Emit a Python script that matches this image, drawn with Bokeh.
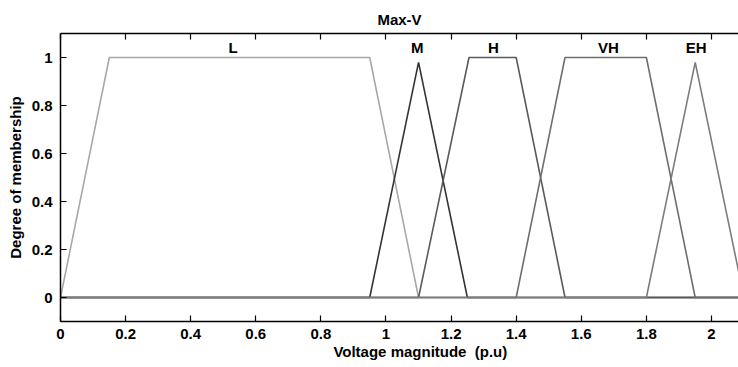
from bokeh.plotting import figure
from bokeh.models import LinearAxis, FixedTicker, Range1d, CustomLabelingPolicy
from bokeh.core.properties import value
from bokeh.embed import file_html
from bokeh.resources import INLINE

# Membership function vertices
L_x = [0.0, 0.15, 0.95, 1.10, 2.10]
L_y = [0.0, 1.00, 1.00, 0.00, 0.00]
M_x = [0.0, 0.95, 1.10, 1.25, 2.10]
M_y = [0.0, 0.00, 0.98, 0.00, 0.00]
H_x = [0.0, 1.10, 1.255, 1.40, 1.55, 2.10]
H_y = [0.0, 0.00, 1.00, 1.00, 0.00, 0.00]
VH_x = [0.0, 1.40, 1.55, 1.80, 1.95, 2.10]
VH_y = [0.0, 0.00, 1.00, 1.00, 0.00, 0.00]
EH_x = [0.0, 1.80, 1.95, 2.10]
EH_y = [0.0, 0.00, 0.98, 0.00]

mf_names = ["L", "M", "H", "VH", "EH"]
mf_label_x = [0.53, 1.096, 1.33, 1.683, 1.953]
mf_label_y = [1.04, 1.04, 1.04, 1.04, 1.04]

x_ticks = [0, 0.2, 0.4, 0.6, 0.8, 1.0, 1.2, 1.4, 1.6, 1.8, 2.0]
x_tick_labels = ["0", "0.2", "0.4", "0.6", "0.8", "1", "1.2", "1.4", "1.6", "1.8", "2"]
y_ticks = [0, 0.2, 0.4, 0.6, 0.8, 1.0]
y_tick_labels = ["0", "0.2", "0.4", "0.6", "0.8", "1"]

FONT = "Liberation Sans"
FS = "15px"
NB = "\u00a0"

p = figure(width=738, height=367, output_backend="svg", toolbar_location=None,
           x_range=Range1d(0, 2.083), y_range=Range1d(-0.1, 1.1),
           title="Max-V", x_axis_location=None, y_axis_location=None,
           min_border_left=60, min_border_right=0, min_border_top=33, min_border_bottom=46)
p.outline_line_color = None
p.grid.visible = False
p.background_fill_color = "white"
p.border_fill_color = "white"

p.title.align = "center"
p.title.text_font = FONT
p.title.text_font_size = FS
p.title.text_font_style = "bold"
p.title.text_color = "black"
p.title.standoff = 4
p.title.offset = 4

def style_axis(ax, ticks, labels):
    ax.ticker = FixedTicker(ticks=ticks)
    ax.major_label_overrides = {t: l for t, l in zip(ticks, labels)}
    ax.major_tick_in = 6
    ax.major_tick_out = 0
    ax.minor_tick_in = 0
    ax.minor_tick_out = 0
    ax.axis_line_color = "black"
    ax.axis_line_width = 1.5
    ax.major_tick_line_color = "black"
    ax.major_tick_line_width = 1.2
    ax.major_label_text_font = FONT
    ax.major_label_text_font_style = "bold"
    ax.major_label_text_font_size = FS
    ax.major_label_text_color = "black"
    ax.axis_label_text_font = FONT
    ax.axis_label_text_font_style = "bold"
    ax.axis_label_text_font_size = FS
    ax.axis_label_text_color = "black"

xb = LinearAxis(axis_label=NB * 10 + "Voltage magnitude " + NB + "(p.u)")
style_axis(xb, x_ticks, x_tick_labels)
xb.major_label_standoff = 7
xb.axis_label_standoff = 1
p.add_layout(xb, "below")

xt = LinearAxis()
style_axis(xt, x_ticks, x_tick_labels)
xt.major_label_text_font_size = "1px"
xt.major_label_policy = CustomLabelingPolicy(code="""
    for (const i of indices) indices.unset(i)
    return indices
""")
xt.major_label_standoff = 0
p.add_layout(xt, "above")

yl = LinearAxis(axis_label="Degree of membership")
style_axis(yl, y_ticks, y_tick_labels)
yl.major_label_standoff = 8
yl.axis_label_standoff = 5
p.add_layout(yl, "left")

series = [(L_x, L_y, "#a8a8a8"), (M_x, M_y, "#333333"), (H_x, H_y, "#5a5a5a"),
          (VH_x, VH_y, "#6e6e6e"), (EH_x, EH_y, "#7c7c7c")]
for xs, ys, c in series:
    p.line(xs, ys, line_color=c, line_width=1.6)

p.text(x=mf_label_x, y=mf_label_y, text=mf_names, text_font=value(FONT),
       text_font_style="bold", text_font_size=FS, text_align="center",
       text_baseline="middle", text_color="black")

open("out.html", "w").write(file_html(p, INLINE))
